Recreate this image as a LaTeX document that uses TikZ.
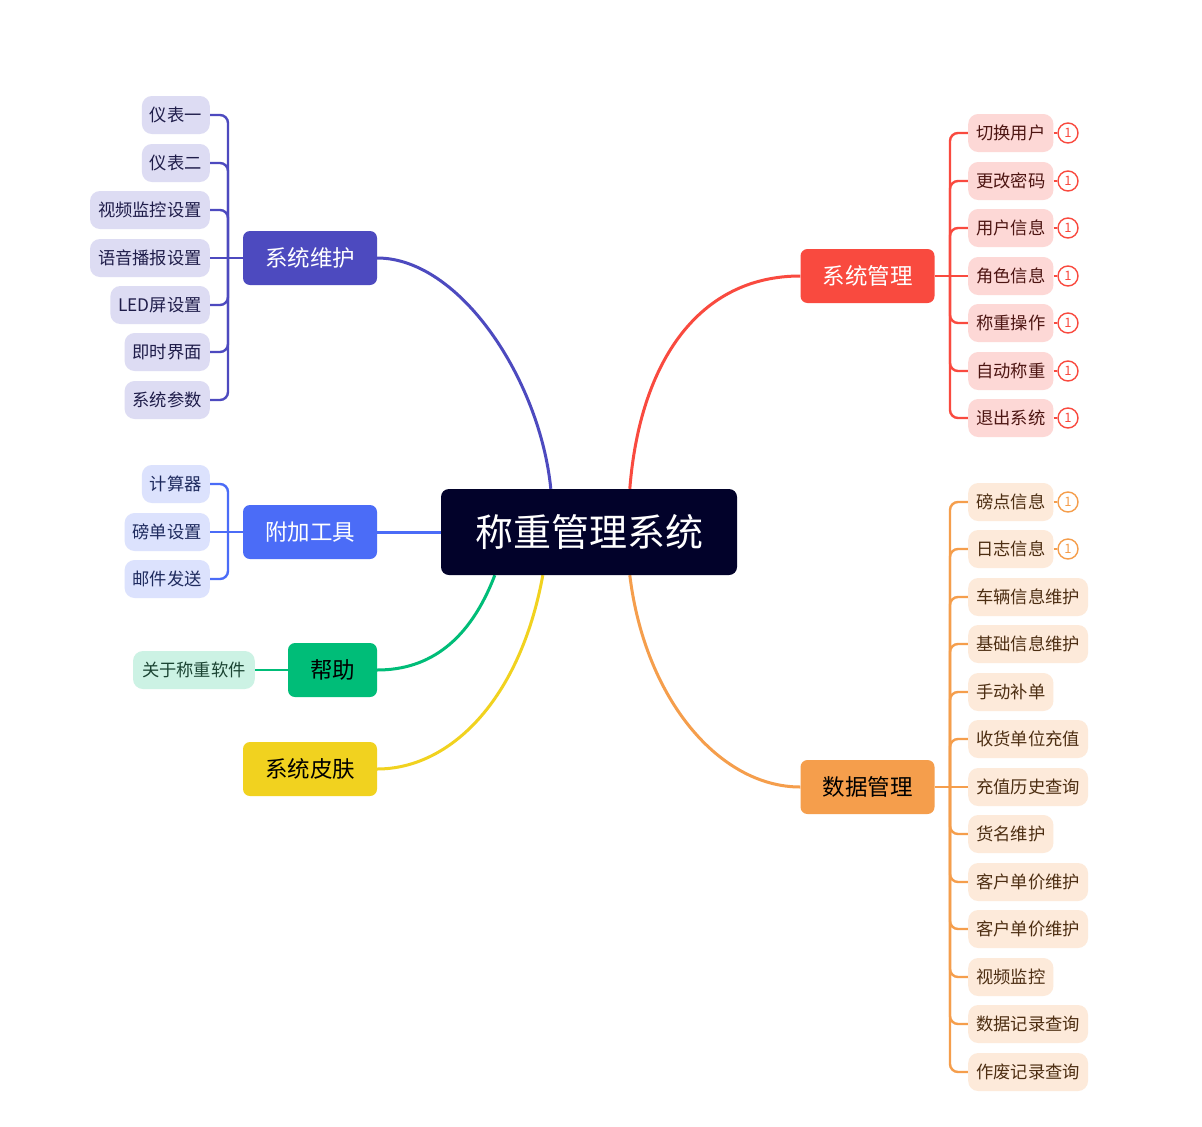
\documentclass[tikz,border=0pt]{standalone}
\usepackage{fontspec}
\setmainfont{Noto Sans CJK SC}
\usetikzlibrary{backgrounds}
\definecolor{cRoot}{HTML}{02022A}
\definecolor{cPur}{HTML}{4D4ABF}
\definecolor{cPurL}{HTML}{DDDCF3}
\definecolor{cPurT}{HTML}{1F1D4A}
\definecolor{cBlu}{HTML}{4B6CF7}
\definecolor{cBluL}{HTML}{DCE2FD}
\definecolor{cBluT}{HTML}{1E2A5E}
\definecolor{cGrn}{HTML}{00BD78}
\definecolor{cGrnL}{HTML}{CCF2E4}
\definecolor{cGrnT}{HTML}{1B4433}
\definecolor{cYel}{HTML}{F1D21F}
\definecolor{cRed}{HTML}{F94A3F}
\definecolor{cRedL}{HTML}{FDD8D6}
\definecolor{cRedT}{HTML}{4D1512}
\definecolor{cOrg}{HTML}{F59E4C}
\definecolor{cOrgL}{HTML}{FDEADA}
\definecolor{cOrgT}{HTML}{4D2E12}
\begin{document}
\begin{tikzpicture}[x=1pt,y=-1pt,
  rootbox/.style={fill=cRoot,text=white,rounded corners=8pt,minimum width=296pt,minimum height=86pt,inner sep=0pt,font=\fontsize{38}{41}\selectfont},
  branchbox/.style={rounded corners=7pt,minimum height=54pt,inner xsep=22pt,inner ysep=0pt,font=\fontsize{22.5}{26}\selectfont},
  leafbox/.style={rounded corners=10pt,minimum height=38pt,inner xsep=8pt,inner ysep=0pt,font=\fontsize{17.3}{20}\selectfont},
  badge/.style={circle,draw,fill=white,line width=1.4pt,minimum size=20pt,inner sep=0pt,font=\fontsize{13}{14}\selectfont},
  mainline/.style={line width=3pt},
  subline/.style={line width=2.4pt,rounded corners=8pt}]
\useasboundingbox (0,0) rectangle (1202,1127);
\begin{scope}[on background layer]
\fill[white] (0,0) rectangle (1202,1127);
\end{scope}

% root and branches
\node[rootbox] (root) at (589,532) {称重管理系统};
\node[branchbox,fill=cPur,text=white] (sw) at (310,258) {系统维护};
\node[branchbox,fill=cBlu,text=white] (fj) at (310,532) {附加工具};
\node[branchbox,fill=cGrn,text=black] (bz) at (332.5,670) {帮助};
\node[branchbox,fill=cYel,text=black] (pf) at (310,769) {系统皮肤};
\node[branchbox,fill=cRed,text=white] (gl) at (867.5,276) {系统管理};
\node[branchbox,fill=cOrg,text=black] (sj) at (867.5,787) {数据管理};

% 系统维护 leaves
\foreach \i/\y/\t in {1/115/仪表一,2/163/仪表二,3/210/视频监控设置,4/258/语音播报设置,5/305/LED屏设置,6/352/即时界面,7/400/系统参数}{
  \node[leafbox,fill=cPurL,text=cPurT,anchor=east] (sw\i) at (210,\y) {\t};
}
% 附加工具 leaves
\foreach \i/\y/\t in {1/484/计算器,2/532/磅单设置,3/579/邮件发送}{
  \node[leafbox,fill=cBluL,text=cBluT,anchor=east] (fj\i) at (210,\y) {\t};
}
% 帮助 leaf
\node[leafbox,fill=cGrnL,text=cGrnT,anchor=east,inner xsep=9pt] (bz1) at (255,670) {关于称重软件};
% 系统管理 leaves
\foreach \i/\y/\t in {1/133/切换用户,2/181/更改密码,3/228/用户信息,4/276/角色信息,5/323/称重操作,6/371/自动称重,7/418/退出系统}{
  \node[leafbox,fill=cRedL,text=cRedT,anchor=west] (gl\i) at (968,\y) {\t};
  \node[badge,draw=cRed,text=cRed] (glb\i) at (1068,\y) {1};
}
% 数据管理 leaves
\foreach \i/\y/\t in {1/502/磅点信息,2/549/日志信息,3/597/车辆信息维护,4/644/基础信息维护,5/692/手动补单,6/739/收货单位充值,7/787/充值历史查询,8/834/货名维护,9/882/客户单价维护,10/929/客户单价维护,11/977/视频监控,12/1024/数据记录查询,13/1072/作废记录查询}{
  \node[leafbox,fill=cOrgL,text=cOrgT,anchor=west] (sj\i) at (968,\y) {\t};
}
\node[badge,draw=cOrg,text=cOrg] (sjb1) at (1068,502) {1};
\node[badge,draw=cOrg,text=cOrg] (sjb2) at (1068,549) {1};

\begin{scope}[on background layer]
% main curves
\draw[mainline,cPur] (sw.east) .. controls (460,258) and (540,380) .. ([xshift=110pt]root.north west);
\draw[mainline,cRed] ([xshift=189pt]root.north west) .. controls (640,360) and (700,276) .. (gl.west);
\draw[mainline,cBlu] (root.west) -- (fj.east);
\draw[mainline,cGrn] ([xshift=54pt]root.south west) .. controls (470,640) and (430,670) .. (bz.east);
\draw[mainline,cYel] ([xshift=102pt]root.south west) .. controls (520,700) and (450,769) .. (pf.east);
\draw[mainline,cOrg] ([xshift=189pt]root.south west) .. controls (645,700) and (720,787) .. (sj.west);

% brackets: 系统维护
\draw[subline,cPur] (sw.west) -- (228,258);
\foreach \i in {1,2,3,5,6,7}{ \draw[subline,cPur] (228,258) |- (sw\i.east); }
\draw[subline,cPur] (228,258) -- (sw4.east);
% 附加工具
\draw[subline,cBlu] (fj.west) -- (228,532);
\foreach \i in {1,3}{ \draw[subline,cBlu] (228,532) |- (fj\i.east); }
\draw[subline,cBlu] (228,532) -- (fj2.east);
% 帮助
\draw[subline,cGrn] (bz.west) -- (bz1.east);
% 系统管理
\draw[subline,cRed] (gl.east) -- (950,276);
\foreach \i in {1,2,3,5,6,7}{ \draw[subline,cRed] (950,276) |- (gl\i.west); }
\draw[subline,cRed] (950,276) -- (gl4.west);
\foreach \i in {1,...,7}{ \draw[line width=1.8pt,cRed] (gl\i.east) -- (glb\i.west); }
% 数据管理
\draw[subline,cOrg] (sj.east) -- (950,787);
\foreach \i in {1,2,3,4,5,6,8,9,10,11,12,13}{ \draw[subline,cOrg] (950,787) |- (sj\i.west); }
\draw[subline,cOrg] (950,787) -- (sj7.west);
\draw[line width=1.8pt,cOrg] (sj1.east) -- (sjb1.west);
\draw[line width=1.8pt,cOrg] (sj2.east) -- (sjb2.west);
\end{scope}
\end{tikzpicture}
\end{document}
